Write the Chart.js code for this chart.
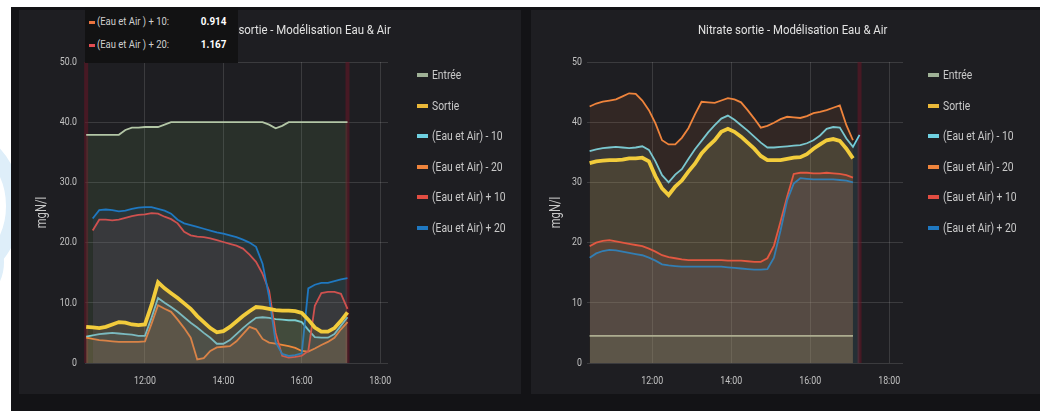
<!DOCTYPE html>
<html>
<head>
<meta charset="utf-8">
<script src="https://cdn.jsdelivr.net/npm/chart.js@4.4.1/dist/chart.umd.min.js"></script>
<style>
  html, body { margin: 0; padding: 0; width: 1040px; height: 411px; overflow: hidden; background: #ffffff; }
  body { position: relative; font-family: Roboto, "Noto Sans", sans-serif; }
  #strip { position: absolute; left: 0; top: 0; width: 11px; height: 411px; overflow: hidden; background: #ffffff; }
  .ring { position: absolute; border-radius: 50%; border-style: solid; border-color: #deeef9; }
  #dash { position: absolute; left: 11px; top: 7px; width: 1029px; height: 404px; background: #131316; }
  .panel { position: absolute; background: #1e1e22; }
  canvas { position: absolute; }
  .title { position: absolute; top: 23px; color: #e2e2e2; font-size: 12px; white-space: nowrap; }
  .title span { display: inline-block; transform: scaleX(0.95); }
  .legend { position: absolute; margin: 0; padding: 0; list-style: none; }
  .legend li { position: absolute; left: 0; height: 14px; line-height: 14px; white-space: nowrap; color: #c9c9c9; font-size: 12px; }
  .legend li i { position: absolute; left: 0; top: 5px; width: 11px; height: 4px; }
  .legend li span { position: absolute; left: 15px; top: 0; transform: scaleX(0.86); transform-origin: 0 50%; }
  #tip { position: absolute; left: 85px; top: 7px; width: 153px; height: 56px; background: #121213; }
  #tip div { position: absolute; left: 0; width: 153px; height: 14px; line-height: 14px; font-size: 11px; color: #cfcfcf; white-space: nowrap; }
  #tip i { position: absolute; left: 4px; top: 6px; width: 6px; height: 3px; }
  #tip .lab { position: absolute; left: 12px; transform: scaleX(0.86); transform-origin: 0 50%; }
  #tip b { position: absolute; right: 12px; color: #ffffff; transform: scaleX(0.9); transform-origin: 100% 50%; }
</style>
</head>
<body>
<div id="strip">
  <div class="ring" style="left:-150px;top:120px;width:140px;height:140px;border-width:16px"></div>
  <div class="ring" style="left:-90px;top:215px;width:70px;height:70px;border-width:12px"></div>
</div>
<div id="dash"></div>
<div class="panel" style="left:19px;top:10px;width:502px;height:384px"></div>
<div class="panel" style="left:531px;top:10px;width:509px;height:384px"></div>

<canvas id="ammonium" width="500" height="383" style="left:20px;top:10px"></canvas>
<canvas id="nitrate" width="508" height="383" style="left:532px;top:10px"></canvas>

<div class="title" id="titleLeft" style="left:0;width:391px;text-align:right"><span style="transform-origin:100% 50%">Ammonium sortie - Modélisation Eau &amp; Air</span></div>
<div class="title" id="titleRight" style="left:600px;width:386px;text-align:center"><span style="transform-origin:50% 50%">Nitrate sortie - Modélisation Eau &amp; Air</span></div>

<ul class="legend" id="legendLeft" style="left:417px;top:68px"></ul>
<ul class="legend" id="legendRight" style="left:928px;top:68px"></ul>

<div id="tip"></div>

<script>
// ---- series definitions ----
const seriesNames = ['Entrée', 'Sortie', '(Eau et Air) - 10', '(Eau et Air) - 20', '(Eau et Air) + 10', '(Eau et Air) + 20'];

// ---- Ammonium panel (mgN/l) ----
const ammoniumTimes = ['10:30','10:40','10:50','11:00','11:10','11:20','11:30','11:40','11:50',
  '12:00','12:10','12:20','12:30','12:40','12:50','13:00','13:10','13:20','13:30','13:40','13:50',
  '14:00','14:10','14:20','14:30','14:40','14:50','15:00','15:10','15:20','15:30','15:40','15:50',
  '16:00','16:10','16:20','16:30','16:40','16:50','17:00','17:10'];
const ammoniumEntree = [37.9,37.9,37.9,37.9,37.9,37.9,38.7,39.1,39.1,
  39.2,39.2,39.2,39.6,40.0,40.0,40.0,40.0,40.0,40.0,40.0,40.0,
  40.0,40.0,40.0,40.0,40.0,40.0,40.0,39.6,39.0,39.4,40.0,40.0,
  40.0,40.0,40.0,40.0,40.0,40.0,40.0,40.0];
const ammoniumSortie = [6.0,5.9,5.8,6.0,6.4,6.8,6.7,6.4,6.3,
  6.4,9.6,13.4,12.4,11.6,10.8,9.9,9.0,7.8,6.8,5.8,5.1,
  5.3,6.0,6.9,7.8,8.6,9.3,9.2,9.0,8.8,8.7,8.7,8.6,
  8.3,7.2,5.9,5.2,5.2,5.8,7.0,8.4];
const ammoniumMinus10 = [4.4,4.6,4.8,4.9,5.0,4.9,4.8,4.7,4.5,
  4.5,7.5,10.8,10.0,9.3,8.5,7.6,6.7,5.9,5.0,4.2,3.2,
  3.2,3.8,4.8,5.8,6.7,7.5,7.6,7.5,7.3,7.2,7.1,7.1,
  6.8,5.5,4.3,4.2,4.2,4.8,6.2,7.6];
const ammoniumMinus20 = [4.2,4.0,3.8,3.7,3.6,3.5,3.5,3.5,3.5,
  3.6,6.5,9.6,9.0,8.5,7.2,5.8,4.2,0.6,0.8,2.0,2.6,
  2.7,2.8,3.6,4.8,6.0,5.6,4.0,3.4,3.2,3.0,2.8,2.5,
  2.0,1.9,2.4,3.0,3.5,4.2,5.6,6.8];
const ammoniumPlus10 = [null,22.0,23.8,23.8,23.7,23.8,24.1,24.4,24.6,
  24.7,24.9,24.8,24.3,23.9,23.2,21.8,21.2,21.0,20.9,20.7,20.4,
  20.1,19.8,19.5,19.0,18.0,16.8,14.8,12.0,5.0,1.2,0.914,1.0,
  1.2,2.0,9.5,11.6,11.8,11.8,11.5,9.0];
const ammoniumPlus20 = [null,24.0,25.4,25.5,25.4,25.2,25.3,25.6,25.8,
  25.9,25.9,25.6,25.3,24.8,23.8,23.2,22.9,22.6,22.3,22.0,21.7,
  21.5,21.2,20.9,20.5,20.0,19.3,16.5,11.0,3.5,1.5,1.167,1.3,
  1.6,12.4,13.0,13.3,13.3,13.6,13.9,14.1];
const ammoniumYTicks = [0, 10, 20, 30, 40, 50];
const ammoniumTooltipTime = '15:40';

// ---- Nitrate panel (mgN/l) ----
const nitrateTimes = ['10:25','10:35','10:45','10:55','11:05','11:15','11:25','11:35','11:45','11:55',
  '12:05','12:15','12:25','12:35','12:45','12:55','13:05','13:15','13:25','13:35','13:45','13:55',
  '14:05','14:15','14:25','14:35','14:45','14:55','15:05','15:15','15:25','15:35','15:45','15:55',
  '16:05','16:15','16:25','16:35','16:45','16:55','17:05','17:15'];
const nitrateEntree = [4.5,4.5,4.5,4.5,4.5,4.5,4.5,4.5,4.5,4.5,
  4.5,4.5,4.5,4.5,4.5,4.5,4.5,4.5,4.5,4.5,4.5,4.5,
  4.5,4.5,4.5,4.5,4.5,4.5,4.5,4.5,4.5,4.5,4.5,4.5,
  4.5,4.5,4.5,4.5,4.5,4.5,4.5];
const nitrateSortie = [33.2,33.5,33.6,33.7,33.7,33.8,34.0,34.0,34.1,33.5,
  31.0,29.0,27.9,29.3,30.3,31.8,33.1,34.8,36.0,37.0,38.4,38.9,
  38.4,37.6,36.6,35.6,34.4,33.7,33.7,33.7,33.9,34.1,34.2,34.7,
  35.6,36.3,37.0,37.2,36.9,35.6,34.0];
const nitrateMinus10 = [35.2,35.5,35.7,35.8,35.9,35.8,35.7,35.8,36.0,35.4,
  33.5,31.2,30.0,31.3,32.2,33.9,35.5,36.9,38.3,39.5,40.6,41.1,
  40.4,39.5,38.6,37.6,36.6,35.8,35.8,35.9,36.0,36.1,36.2,36.5,
  37.0,37.8,38.9,39.2,39.1,37.3,35.9,37.9];
const nitrateMinus20 = [42.6,43.1,43.4,43.6,43.8,44.3,44.8,44.7,43.6,42.0,
  39.8,37.0,36.3,36.3,37.4,39.0,41.3,43.4,43.3,43.2,43.6,44.0,
  43.8,43.3,42.0,40.6,39.1,39.4,39.9,40.5,40.9,40.8,40.7,41.0,
  41.5,41.7,42.0,42.4,42.8,39.5,37.0];
const nitratePlus10 = [19.4,20.0,20.3,20.4,20.2,20.0,19.8,19.6,19.4,19.0,
  18.5,17.9,17.6,17.4,17.2,17.1,17.1,17.1,17.1,17.1,17.1,17.0,
  17.0,17.0,16.9,16.8,16.8,17.4,19.5,23.5,27.6,31.4,31.6,31.6,
  31.5,31.5,31.6,31.5,31.4,31.2,30.8];
const nitratePlus20 = [17.5,18.2,18.6,18.8,18.7,18.5,18.3,18.1,17.9,17.5,
  17.0,16.4,16.2,16.1,16.0,16.0,16.0,16.0,16.0,16.0,16.0,15.9,
  15.8,15.7,15.6,15.5,15.5,15.6,17.5,22.0,27.0,29.8,30.7,30.6,
  30.5,30.5,30.5,30.5,30.4,30.3,30.0];
const nitrateYTicks = [0, 10, 20, 30, 40, 50];

// ---- shared axis labels ----
const xTickHours = [12, 14, 16, 18];
const yAxisTitle = 'mgN/l';

// ---- styles ----
const lineColors = ['#b3c6a6', '#f2cc3c', '#6ed0e0', '#ef843c', '#e24d42', '#1f78c1'];
const legendColors = ['#9fb196', '#eab839', '#6ed0e0', '#ef843c', '#e24d42', '#1f78c1'];
const fillColors = ['rgba(126,178,109,0.12)', 'rgba(234,184,57,0.10)', 'rgba(110,208,224,0.10)',
  'rgba(239,132,60,0.10)', 'rgba(226,77,66,0.10)', 'rgba(31,120,193,0.10)'];
const lineWidths = [1.8, 3.8, 1.8, 1.8, 1.8, 1.8];
const drawOrder = [6, 1, 5, 4, 3, 2];
const gridColor = 'rgba(255,255,255,0.13)';
const tickColor = '#c2c2c2';
const fontFamily = 'Roboto, "Noto Sans", sans-serif';
const textSqueeze = 0.8;

const toHours = s => { const p = s.split(':'); return Number(p[0]) + Number(p[1]) / 60; };
const hourLabel = h => String(h).padStart(2, '0') + ':00';

// draws canvas text in a condensed form, anchored where Chart.js places it
const condensedText = {
  id: 'condensedText',
  beforeInit(chart) {
    const ctx = chart.ctx;
    const native = ctx.fillText.bind(ctx);
    ctx.fillText = function (text, x, y, maxWidth) {
      this.save();
      this.translate(x, y);
      this.scale(textSqueeze, 1);
      if (maxWidth === undefined) native(text, 0, 0);
      else native(text, 0, 0, maxWidth / textSqueeze);
      this.restore();
    };
  }
};

// thin vertical bands marking the start and end of the modelled window
const bandPlugin = {
  id: 'windowBands',
  beforeDatasetsDraw(chart, args, opts) {
    const { ctx, chartArea, scales } = chart;
    if (!opts.times) return;
    ctx.save();
    ctx.fillStyle = opts.color;
    opts.times.forEach(t => {
      const px = scales.x.getPixelForValue(toHours(t));
      ctx.fillRect(px - opts.width / 2, chartArea.top, opts.width, chartArea.bottom - chartArea.top);
    });
    ctx.restore();
  }
};

function buildDatasets(times, seriesValues) {
  return seriesValues.map((vals, s) => ({
    label: seriesNames[s],
    data: times.map((t, i) => ({ x: toHours(t), y: vals[i] === undefined ? null : vals[i] })),
    borderColor: lineColors[s],
    backgroundColor: fillColors[s],
    borderWidth: lineWidths[s],
    fill: 'origin',
    pointRadius: 0,
    tension: 0,
    spanGaps: false,
    order: drawOrder[s]
  }));
}

function buildChart(canvasId, cfg) {
  return new Chart(document.getElementById(canvasId), {
    type: 'line',
    data: { datasets: buildDatasets(cfg.times, cfg.series) },
    plugins: [condensedText, bandPlugin],
    options: {
      responsive: false,
      animation: false,
      devicePixelRatio: 1,
      layout: { padding: { left: 0, top: 52, right: cfg.padRight, bottom: 0 } },
      plugins: {
        legend: { display: false },
        title: { display: false },
        tooltip: { enabled: false },
        windowBands: { times: cfg.bands, color: 'rgba(105,22,38,0.55)', width: 4 }
      },
      scales: {
        x: {
          type: 'linear',
          min: cfg.xMin, max: cfg.xMax,
          afterBuildTicks: s => { s.ticks = xTickHours.map(v => ({ value: v })); },
          afterFit: s => { s.height = 30; },
          ticks: { color: tickColor, padding: 12, maxRotation: 0, autoSkip: false,
                   font: { family: fontFamily, size: 11 }, callback: v => hourLabel(v) },
          grid: { color: gridColor, drawTicks: false },
          border: { display: false }
        },
        y: {
          min: 0, max: 50,
          afterBuildTicks: s => { s.ticks = cfg.yTicks.map(v => ({ value: v })); },
          afterFit: s => { s.width = cfg.yWidth; },
          ticks: { color: tickColor, padding: cfg.yPad, font: { family: fontFamily, size: 11 },
                   callback: cfg.yFormat },
          grid: { color: gridColor, drawTicks: false },
          border: { display: false },
          title: { display: true, text: yAxisTitle, color: '#c8c8c8',
                   font: { family: fontFamily, size: 14 }, padding: { top: cfg.titlePad, bottom: 0 } }
        }
      }
    }
  });
}

buildChart('ammonium', {
  times: ammoniumTimes,
  series: [ammoniumEntree, ammoniumSortie, ammoniumMinus10, ammoniumMinus20, ammoniumPlus10, ammoniumPlus20],
  xMin: 10.47, xMax: 18.2, padRight: 132, yWidth: 65, yPad: 8, titlePad: 14,
  yTicks: ammoniumYTicks,
  yFormat: v => (v === 0 ? '0' : v.toFixed(1)),
  bands: [ammoniumTimes[0], ammoniumTimes[ammoniumTimes.length - 1]]
});

buildChart('nitrate', {
  times: nitrateTimes,
  series: [nitrateEntree, nitrateSortie, nitrateMinus10, nitrateMinus20, nitratePlus10, nitratePlus20],
  xMin: 10.35, xMax: 18.35, padRight: 137, yWidth: 55, yPad: 5, titlePad: 16,
  yTicks: nitrateYTicks,
  yFormat: v => String(v),
  bands: [nitrateTimes[nitrateTimes.length - 1]]
});

// ---- legends ----
function fillLegend(id) {
  const ul = document.getElementById(id);
  seriesNames.forEach((name, s) => {
    const li = document.createElement('li');
    li.style.top = (s * 30.5) + 'px';
    li.innerHTML = '<i style="background:' + legendColors[s] + '"></i><span></span>';
    li.querySelector('span').textContent = name;
    ul.appendChild(li);
  });
}
fillLegend('legendLeft');
fillLegend('legendRight');

// ---- hover readout on the ammonium panel ----
(function () {
  const tip = document.getElementById('tip');
  const idx = ammoniumTimes.indexOf(ammoniumTooltipTime);
  const rows = [
    { name: seriesNames[4], value: ammoniumPlus10[idx], color: '#e8733f' },
    { name: seriesNames[5], value: ammoniumPlus20[idx], color: '#e24d52' }
  ];
  rows.forEach((r, k) => {
    const d = document.createElement('div');
    d.style.top = (8 + k * 23) + 'px';
    d.innerHTML = '<i style="background:' + r.color + '"></i><span class="lab"></span><b></b>';
    d.querySelector('.lab').textContent = r.name.replace(')', ' )') + ':';
    d.querySelector('b').textContent = r.value.toFixed(3);
    tip.appendChild(d);
  });
})();
</script>
</body>
</html>
